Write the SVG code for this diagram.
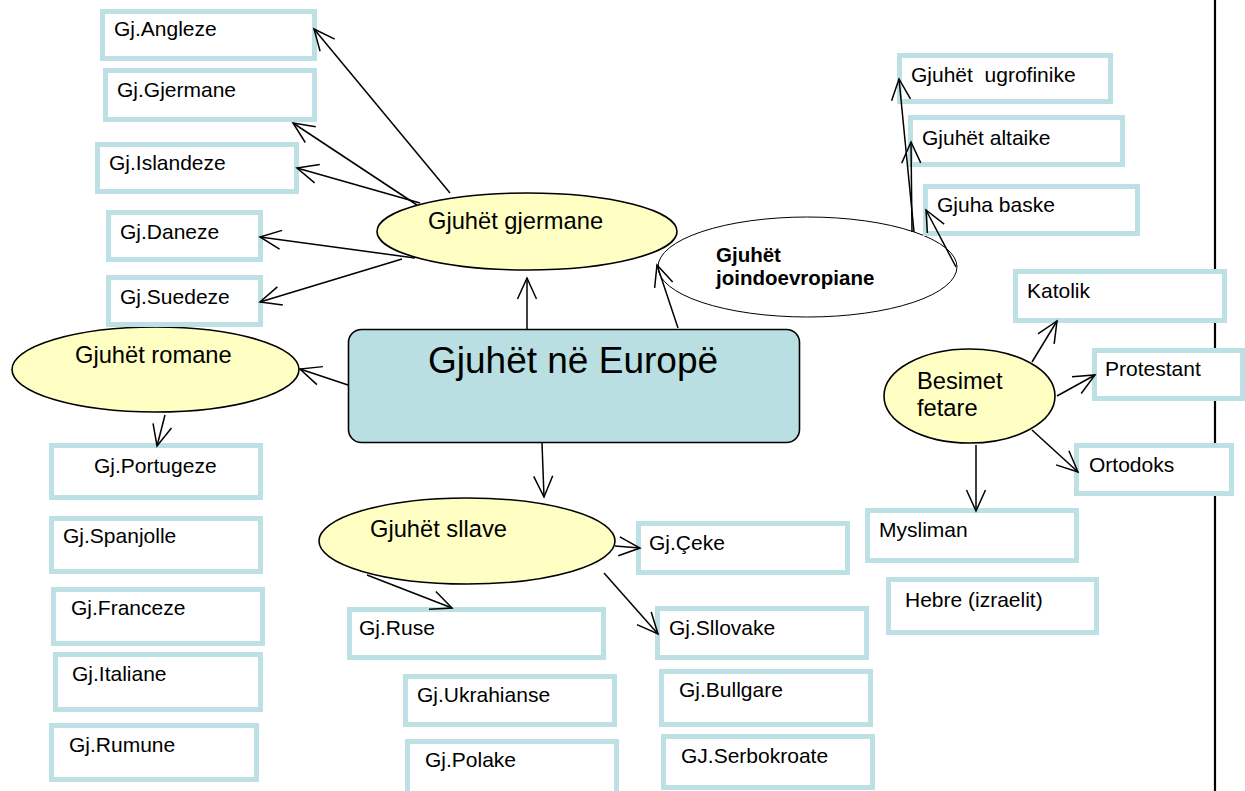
<svg xmlns="http://www.w3.org/2000/svg" width="1245" height="791" viewBox="0 0 1245 791">
<style>
.box{fill:#fff;stroke:#bce0e3;stroke-width:5}
.bt{font-family:"Liberation Sans",Arial,sans-serif;font-size:21px;fill:#000}
.ell{fill:#ffffc4;stroke:#000;stroke-width:1.6}
.et{font-family:"Liberation Sans",Arial,sans-serif;font-size:23.7px;fill:#000}
.c line{stroke:#000;stroke-width:1.5;marker-end:url(#a)}
</style>
<defs>
<marker id="a" markerUnits="userSpaceOnUse" markerWidth="30" markerHeight="30" viewBox="-25 -15 30 30" refX="0" refY="0" orient="auto" overflow="visible">
<path d="M-21,-9.5 L0,0 L-21,9.5" fill="none" stroke="#000" stroke-width="1.5"/>
</marker>
</defs>
<rect width="1245" height="791" fill="#fff"/>
<line x1="1215" y1="0" x2="1215" y2="791" stroke="#000" stroke-width="2.2"/>

<g id="main"><rect x="348.5" y="329.5" width="451" height="113" rx="13" fill="#b9dfe2" stroke="#000" stroke-width="1.6"/><text x="428" y="373" font-family="Liberation Sans,Arial,sans-serif" font-size="37" fill="#000">Gjuhët në Europë</text></g>

<g id="gjermane"><ellipse class="ell" cx="527" cy="231.5" rx="150" ry="38.5"/><text class="et" x="428" y="229">Gjuhët gjermane</text></g>
<g id="romane"><ellipse class="ell" cx="155.5" cy="369.5" rx="143.5" ry="42.5"/><text class="et" x="75" y="363">Gjuhët romane</text></g>
<g id="sllave"><ellipse class="ell" cx="467" cy="541" rx="148" ry="43"/><text class="et" x="370" y="537">Gjuhët sllave</text></g>
<g id="joindo"><ellipse cx="807.5" cy="267" rx="149.5" ry="50" fill="#fff" stroke="#000" stroke-width="1"/><text x="716" y="262" font-family="Liberation Sans,Arial,sans-serif" font-size="20.5" font-weight="bold" fill="#000">Gjuhët</text><text x="716" y="285" font-family="Liberation Sans,Arial,sans-serif" font-size="20.5" font-weight="bold" fill="#000">joindoevropiane</text></g>
<g id="besimet"><ellipse class="ell" cx="969.5" cy="396" rx="85.5" ry="47"/><text class="et" x="917" y="389">Besimet</text><text class="et" x="917" y="416">fetare</text></g>

<g id="angleze"><rect class="box" x="102.5" y="11.5" width="212" height="47"/><text class="bt" x="114" y="36">Gj.Angleze</text></g>
<g id="gjermane-b"><rect class="box" x="105.5" y="70.5" width="209" height="49"/><text class="bt" x="117" y="97">Gj.Gjermane</text></g>
<g id="islandeze"><rect class="box" x="97.5" y="144.5" width="199" height="47"/><text class="bt" x="109" y="170">Gj.Islandeze</text></g>
<g id="daneze"><rect class="box" x="108.5" y="212.5" width="152" height="47"/><text class="bt" x="120" y="239">Gj.Daneze</text></g>
<g id="suedeze"><rect class="box" x="108.5" y="277.5" width="152" height="47"/><text class="bt" x="120" y="304">Gj.Suedeze</text></g>
<g id="portugeze"><rect class="box" x="51.5" y="445.5" width="209" height="52"/><text class="bt" x="94" y="473">Gj.Portugeze</text></g>
<g id="spanjolle"><rect class="box" x="51.5" y="518.5" width="209" height="53"/><text class="bt" x="63" y="543">Gj.Spanjolle</text></g>
<g id="franceze"><rect class="box" x="53.5" y="589.5" width="209" height="54"/><text class="bt" x="71" y="615">Gj.Franceze</text></g>
<g id="italiane"><rect class="box" x="55.5" y="654.5" width="205" height="55"/><text class="bt" x="72" y="681">Gj.Italiane</text></g>
<g id="rumune"><rect class="box" x="51.5" y="725.5" width="205" height="54"/><text class="bt" x="69" y="752">Gj.Rumune</text></g>
<g id="ruse"><rect class="box" x="349.5" y="609.5" width="254" height="48"/><text class="bt" x="359" y="635">Gj.Ruse</text></g>
<g id="ukrahianse"><rect class="box" x="405.5" y="676.5" width="209" height="48"/><text class="bt" x="417" y="702">Gj.Ukrahianse</text></g>
<g id="polake"><rect class="box" x="407.5" y="741.5" width="209" height="56"/><text class="bt" x="425" y="767">Gj.Polake</text></g>
<g id="ceke"><rect class="box" x="638.5" y="523.5" width="209" height="49"/><text class="bt" x="649" y="550">Gj.Çeke</text></g>
<g id="sllovake"><rect class="box" x="657.5" y="608.5" width="209" height="49"/><text class="bt" x="669" y="635">Gj.Sllovake</text></g>
<g id="bullgare"><rect class="box" x="661.5" y="671.5" width="209" height="53"/><text class="bt" x="679" y="697">Gj.Bullgare</text></g>
<g id="serbokroate"><rect class="box" x="663.5" y="736.5" width="209" height="51"/><text class="bt" x="681" y="763">GJ.Serbokroate</text></g>
<g id="ugrofinike"><rect class="box" x="899.5" y="55.5" width="211" height="46"/><text class="bt" x="911" y="82" xml:space="preserve">Gjuhët  ugrofinike</text></g>
<g id="altaike"><rect class="box" x="910.5" y="117.5" width="212" height="47"/><text class="bt" x="922" y="145">Gjuhët altaike</text></g>
<g id="baske"><rect class="box" x="925.5" y="186.5" width="212" height="47"/><text class="bt" x="937" y="212">Gjuha baske</text></g>
<g id="katolik"><rect class="box" x="1015.5" y="271.5" width="209" height="49"/><text class="bt" x="1027" y="298">Katolik</text></g>
<g id="protestant"><rect class="box" x="1094.5" y="350.5" width="148" height="48"/><text class="bt" x="1105" y="376">Protestant</text></g>
<g id="ortodoks"><rect class="box" x="1076.5" y="445.5" width="155" height="48"/><text class="bt" x="1089" y="472">Ortodoks</text></g>
<g id="mysliman"><rect class="box" x="867.5" y="510.5" width="209" height="50"/><text class="bt" x="879" y="537">Mysliman</text></g>
<g id="hebre"><rect class="box" x="888.5" y="579.5" width="208" height="53"/><text class="bt" x="905" y="607">Hebre (izraelit)</text></g>

<g id="connectors" class="c">
<line x1="450" y1="193" x2="314" y2="29"/>
<line x1="417" y1="205" x2="293" y2="123"/>
<line x1="420" y1="203" x2="297" y2="168"/>
<line x1="415" y1="258" x2="260" y2="237"/>
<line x1="402" y1="259" x2="260" y2="302"/>
<line x1="527" y1="329" x2="527" y2="278"/>
<line x1="678" y1="328" x2="657" y2="265"/>
<line x1="348" y1="385" x2="300" y2="369"/>
<line x1="542" y1="443" x2="544" y2="497"/>
<line x1="165" y1="415" x2="157" y2="446"/>
<line x1="914" y1="232" x2="899" y2="79"/>
<line x1="912" y1="232" x2="911" y2="142"/>
<line x1="956" y1="267" x2="926" y2="210"/>
<line x1="367" y1="575" x2="452" y2="608"/>
<line x1="615" y1="546" x2="640" y2="548"/>
<line x1="604" y1="573" x2="658" y2="634"/>
<line x1="1032" y1="362" x2="1057" y2="321"/>
<line x1="1057" y1="396" x2="1095" y2="375"/>
<line x1="1032" y1="430" x2="1078" y2="472"/>
<line x1="976" y1="445" x2="976" y2="511"/>
</g>
</svg>
